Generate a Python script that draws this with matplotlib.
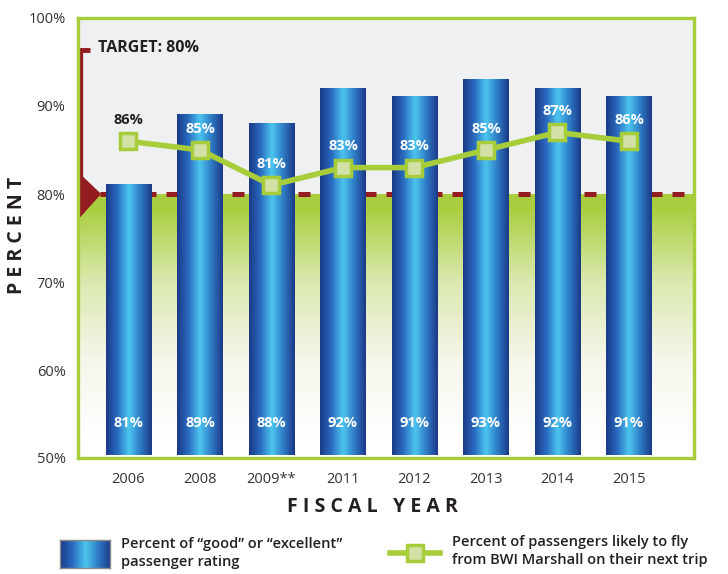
import numpy as np
import matplotlib
matplotlib.use('Agg')
import matplotlib.pyplot as plt
from matplotlib.colors import LinearSegmentedColormap
from matplotlib.lines import Line2D
from matplotlib.patches import Polygon

plt.rcParams['font.family'] = ['Open Sans', 'DejaVu Sans']

years = ['2006', '2008', '2009**', '2011', '2012', '2013', '2014', '2015']
rating = [81, 89, 88, 92, 91, 93, 92, 91]
likely = [86, 85, 81, 83, 83, 85, 87, 86]
target = 80
yticks = [50, 60, 70, 80, 90, 100]

GREEN = '#a8cd3b'
RED = '#921c20'
TEXT = '#231f20'

bar_cmap = LinearSegmentedColormap.from_list(
    'bar', ['#1b3a88', '#2a6cc0', '#4cc6f0', '#2f7cc6', '#1b3a88'])
bg_cmap = LinearSegmentedColormap.from_list(
    'bg', ['#ffffff', '#f4f7ea', '#dbe9b0', '#a9cd3e'])

fig = plt.figure(figsize=(7.28, 5.74), dpi=100)
ax = fig.add_axes([78 / 728, 1 - 458 / 574, 616 / 728, 440 / 574])
x = np.arange(len(years))
xlim = (-0.706, len(years) - 1 + 0.91)
ax.set_xlim(*xlim)
ax.set_ylim(50, 100)
ax.set_facecolor('#eff0f2')

# green fade below the target
grad = np.linspace(0, 1, 200).reshape(-1, 1)
grad = np.clip(grad * 1.15 - 0.1, 0, 1)
ax.imshow(grad, aspect='auto', cmap=bg_cmap, origin='lower',
          extent=[xlim[0], xlim[1], 50, target], zorder=0)

# dashed target line
ax.axhline(target, color=RED, lw=3.6, dashes=(2.4, 2.0), zorder=1)

# gradient bars
w = 0.63
hgrad = np.linspace(0, 1, 100).reshape(1, -1)
bars = ax.bar(x, [r - 50 for r in rating], bottom=50.3, width=w,
              color='none', zorder=2)
for b, r in zip(bars, rating):
    ax.imshow(hgrad, aspect='auto', cmap=bar_cmap,
              extent=[b.get_x(), b.get_x() + w, 50.3, r], zorder=2)
    ax.text(b.get_x() + w / 2, 54, f'{r}%', ha='center', va='center',
            color='white', fontsize=10.5, fontweight='bold', zorder=5)

# likely-to-fly line
ax.plot(x, likely, color=GREEN, lw=4, marker='s', markersize=11.5,
        mfc='#d4e1a6', mec=GREEN, mew=2.5, zorder=4)
for i, v in enumerate(likely):
    col = TEXT if rating[i] < v + 2 else 'white'
    ax.text(x[i], v + 2.4, f'{v}%', ha='center', va='center', color=col,
            fontsize=10.5, fontweight='bold', zorder=5)

# target marker
trans = ax.get_yaxis_transform()
ax.add_patch(Polygon([(0, target + 2.4), (0.036, target), (0, target - 2.8)],
                     closed=True, color=RED, transform=trans, zorder=6,
                     clip_on=False))
ax.plot([0.004, 0.004], [target, 96.4], color=RED, lw=3.8,
        transform=trans, zorder=6, clip_on=False, solid_capstyle='butt')
ax.plot([0.001, 0.02], [96.4, 96.4], color=RED, lw=3.5,
        transform=trans, zorder=6, clip_on=False, solid_capstyle='butt')
ax.text(0.032, 96.6, f'TARGET: {target}%', transform=trans, ha='left',
        va='center', fontsize=11.5, fontweight='bold', color=TEXT, zorder=6)

for s in ax.spines.values():
    s.set_color(GREEN)
    s.set_linewidth(2.4)
    s.set_zorder(7)

ax.set_xticks(x)
ax.set_xticklabels(years, fontsize=10.5, color='#333333')
ax.set_yticks(yticks)
ax.set_yticklabels([f'{t}%' for t in yticks], fontsize=10.5, color='#333333')
ax.tick_params(length=0)
ax.tick_params(axis='y', pad=9)
ax.tick_params(axis='x', pad=10)

fig.text(17 / 728, 1 - 235 / 574, 'P E R C E N T', rotation=90, ha='center',
         va='center', fontsize=14, fontweight='bold', color=TEXT)
fig.text(372 / 728, 1 - 507 / 574, 'F I S C A L   Y E A R', ha='center',
         va='center', fontsize=14, fontweight='bold', color=TEXT)

# legend
lax = fig.add_axes([60 / 728, 1 - 568 / 574, 50 / 728, 28 / 574])
lax.imshow(hgrad, aspect='auto', cmap=bar_cmap)
lax.set_xticks([])
lax.set_yticks([])
for s in lax.spines.values():
    s.set_color('#8a8a8a')
    s.set_linewidth(1)
fig.text(121 / 728, 1 - 553 / 574,
         'Percent of \u201cgood\u201d or \u201cexcellent\u201d\npassenger rating',
         ha='left', va='center', fontsize=10.5, fontweight='semibold',
         color=TEXT, linespacing=1.35)
ly = 1 - 553 / 574
fig.add_artist(Line2D([390 / 728, 415 / 728, 440 / 728], [ly, ly, ly],
                      transform=fig.transFigure, color=GREEN, lw=4,
                      marker='s', markersize=11, markevery=[1],
                      mfc='#d4e1a6', mec=GREEN, mew=2.5))
fig.text(452 / 728, 1 - 551 / 574,
         'Percent of passengers likely to fly\nfrom BWI Marshall on their next trip',
         ha='left', va='center', fontsize=10.5, fontweight='semibold',
         color=TEXT, linespacing=1.35)

fig.savefig('out.png', dpi=100)
